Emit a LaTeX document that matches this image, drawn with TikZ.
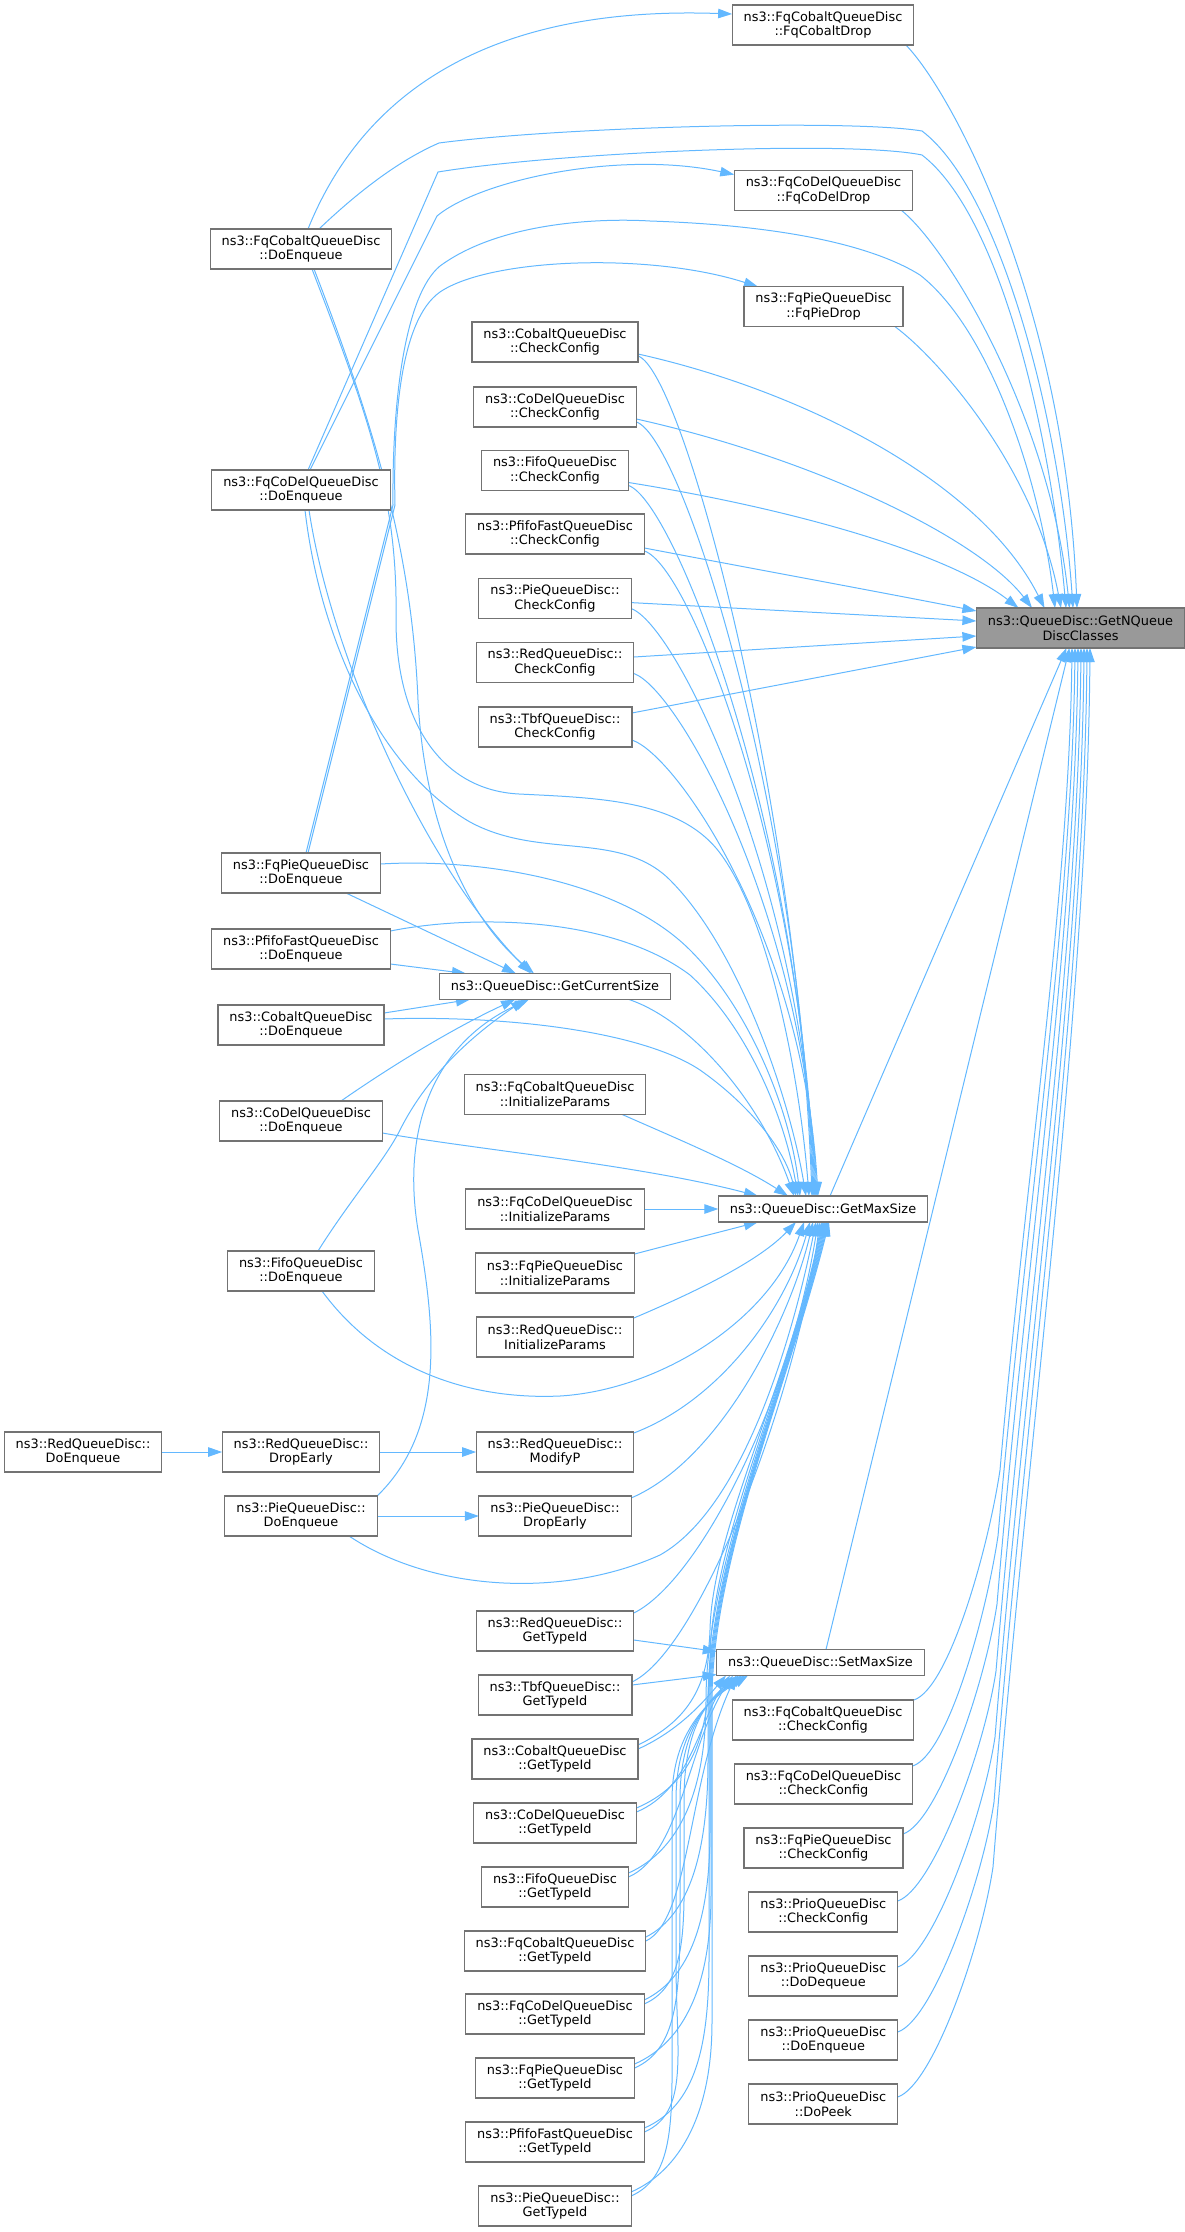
\documentclass[tikz,border=0pt]{standalone}
\usepackage{fontspec}
\setmainfont{DejaVu Sans}
\usetikzlibrary{arrows.meta,calc}
\definecolor{edgec}{HTML}{63B8FF}
\definecolor{bordc}{HTML}{737373}
\definecolor{mainfill}{HTML}{999999}
\pgfdeclarelayer{bg}
\pgfsetlayers{bg,main}
\begin{document}
\begin{tikzpicture}[x=1pt,y=-1pt,
 box/.style={draw=bordc, line width=1.2pt, fill=white, align=center, inner xsep=11.5pt, inner ysep=2pt, minimum height=40pt, outer sep=0pt, font=\fontsize{12.9}{14.8}\selectfont},
 box1/.style={box, minimum height=26pt},
 cn/.style={draw=edgec, line width=1pt, -{Triangle[length=14pt,width=9.5pt]}},
]
\useasboundingbox (0,0) rectangle (1185,2232);
% rank 0
\node[box, fill=mainfill] (G) at (1080.5,628) {ns3::QueueDisc::GetNQueue\\DiscClasses};
% rank 1
\node[box] (cdrop) at (823,25) {ns3::FqCobaltQueueDisc\\::FqCobaltDrop};
\node[box] (ddrop) at (823.5,190.6) {ns3::FqCoDelQueueDisc\\::FqCoDelDrop};
\node[box] (pdrop) at (823.5,306.7) {ns3::FqPieQueueDisc\\::FqPieDrop};
\node[box1] (gm) at (823,1209) {ns3::QueueDisc::GetMaxSize};
\node[box1] (sms) at (820.5,1662.5) {ns3::QueueDisc::SetMaxSize};
\node[box] (fcCC) at (823,1720) {ns3::FqCobaltQueueDisc\\::CheckConfig};
\node[box] (fdCC) at (823.5,1784) {ns3::FqCoDelQueueDisc\\::CheckConfig};
\node[box] (fpCC) at (823.5,1848) {ns3::FqPieQueueDisc\\::CheckConfig};
\node[box] (prCC) at (823.3,1912) {ns3::PrioQueueDisc\\::CheckConfig};
\node[box] (prDQ) at (823.3,1976) {ns3::PrioQueueDisc\\::DoDequeue};
\node[box] (prEQ) at (823.3,2040) {ns3::PrioQueueDisc\\::DoEnqueue};
\node[box] (prPK) at (823.3,2104) {ns3::PrioQueueDisc\\::DoPeek};
% rank 2
\node[box] (cobCC) at (555,342) {ns3::CobaltQueueDisc\\::CheckConfig};
\node[box] (codCC) at (555,407) {ns3::CoDelQueueDisc\\::CheckConfig};
\node[box] (fifCC) at (555,470.5) {ns3::FifoQueueDisc\\::CheckConfig};
\node[box] (pffCC) at (555,534) {ns3::PfifoFastQueueDisc\\::CheckConfig};
\node[box] (pieCC) at (555,598.6) {ns3::PieQueueDisc::\\CheckConfig};
\node[box] (redCC) at (555,662.5) {ns3::RedQueueDisc::\\CheckConfig};
\node[box] (tbfCC) at (555,727) {ns3::TbfQueueDisc::\\CheckConfig};
\node[box1] (gcs) at (555,986.5) {ns3::QueueDisc::GetCurrentSize};
\node[box] (fcIP) at (555,1094.4) {ns3::FqCobaltQueueDisc\\::InitializeParams};
\node[box] (fdIP) at (555,1209) {ns3::FqCoDelQueueDisc\\::InitializeParams};
\node[box] (fpIP) at (555,1273) {ns3::FqPieQueueDisc\\::InitializeParams};
\node[box] (redIP) at (555,1337) {ns3::RedQueueDisc::\\InitializeParams};
\node[box] (modP) at (555,1452) {ns3::RedQueueDisc::\\ModifyP};
\node[box] (pDE) at (555,1516) {ns3::PieQueueDisc::\\DropEarly};
\node[box] (redGT) at (555,1631) {ns3::RedQueueDisc::\\GetTypeId};
\node[box] (tbfGT) at (555,1695) {ns3::TbfQueueDisc::\\GetTypeId};
\node[box] (cobGT) at (555,1759) {ns3::CobaltQueueDisc\\::GetTypeId};
\node[box] (codGT) at (555,1823) {ns3::CoDelQueueDisc\\::GetTypeId};
\node[box] (fifGT) at (555,1887) {ns3::FifoQueueDisc\\::GetTypeId};
\node[box] (fcGT) at (555,1951) {ns3::FqCobaltQueueDisc\\::GetTypeId};
\node[box] (fdGT) at (555,2014) {ns3::FqCoDelQueueDisc\\::GetTypeId};
\node[box] (fpGT) at (555,2078) {ns3::FqPieQueueDisc\\::GetTypeId};
\node[box] (pffGT) at (555,2142) {ns3::PfifoFastQueueDisc\\::GetTypeId};
\node[box] (pieGT) at (555,2206) {ns3::PieQueueDisc::\\GetTypeId};
% rank 3
\node[box] (fcDE) at (301,249) {ns3::FqCobaltQueueDisc\\::DoEnqueue};
\node[box] (fdDE) at (301,490) {ns3::FqCoDelQueueDisc\\::DoEnqueue};
\node[box] (fpDE) at (301,873) {ns3::FqPieQueueDisc\\::DoEnqueue};
\node[box] (pffDE) at (301,949) {ns3::PfifoFastQueueDisc\\::DoEnqueue};
\node[box] (cobDE) at (301,1025) {ns3::CobaltQueueDisc\\::DoEnqueue};
\node[box] (codDE) at (301,1121) {ns3::CoDelQueueDisc\\::DoEnqueue};
\node[box] (fifDE) at (301,1271) {ns3::FifoQueueDisc\\::DoEnqueue};
\node[box] (rDrop) at (301,1452) {ns3::RedQueueDisc::\\DropEarly};
\node[box] (pieDE) at (301,1516) {ns3::PieQueueDisc::\\DoEnqueue};
% rank 4
\node[box] (redDE) at (83,1452) {ns3::RedQueueDisc::\\DoEnqueue};

\begin{pgfonlayer}{bg}
% ---- top group
\draw[cn] ($(fcDE.north)+(7,0)$) .. controls (360,100) and (480,5) .. ($(cdrop.west)+(0,-11)$);
\draw[cn] ($(fcDE.north)+(18,0)$) .. controls (360,190) and (400,160) .. (439,143) .. controls (560,127) and (850,119) .. (922,131) .. controls (1000,190) and (1060,420) .. ($(G.north)+(-7.5,0)$);
\draw[cn] ($(fdDE.north)+(7,0)$) -- (438,172) .. controls (560,152) and (850,140) .. (922,155) .. controls (1000,215) and (1050,430) .. ($(G.north)+(-14.5,0)$);
\draw[cn] ($(fdDE.north)+(9,0)$) -- (437,216) .. controls (480,180) and (620,150) .. ($(ddrop.west)+(0,-16)$);
\draw[cn] ($(fpDE.north)+(5,0)$) -- (393,505) .. controls (392,400) and (405,295) .. (440,266) .. controls (500,222) and (600,218) .. (650,221) .. controls (800,226) and (880,250) .. (920,275) .. controls (990,330) and (1040,480) .. ($(G.north)+(-25.5,0)$);
\draw[cn] ($(fpDE.north)+(7,0)$) -- (395,505) .. controls (393,420) and (400,320) .. (440,292) .. controls (490,258) and (650,252) .. ($(pdrop.north west)+(14,0)$);
\draw[cn] ($(cdrop.south east)+(-8,0)$) .. controls (950,90) and (1065,300) .. ($(G.north)+(-3.5,0)$);
\draw[cn] ($(ddrop.south east)+(-11,0)$) .. controls (950,250) and (1050,420) .. ($(G.north)+(-11,0)$);
\draw[cn] ($(pdrop.south east)+(-8,0)$) .. controls (940,360) and (1035,470) .. ($(G.north)+(-19.5,0)$);
% ---- CheckConfig -> G
\draw[cn] ($(cobCC.east)+(0,12)$) .. controls (800,390) and (980,480) .. ($(G.north)+(-36,0)$);
\draw[cn] ($(codCC.east)+(0,12)$) .. controls (820,460) and (980,540) .. ($(G.north)+(-48.5,0)$);
\draw[cn] ($(fifCC.east)+(0,12)$) .. controls (800,510) and (950,555) .. ($(G.north)+(-62,0)$);
\draw[cn] ($(pffCC.east)+(0,14)$) .. controls (760,570) and (880,592) .. ($(G.west)+(0,-17)$);
\draw[cn] ($(pieCC.east)+(0,4)$) -- ($(G.west)+(0,-7)$);
\draw[cn] ($(redCC.east)+(0,-5.5)$) -- ($(G.west)+(0,8)$);
\draw[cn] ($(tbfCC.east)+(0,-14)$) -- ($(G.west)+(0,19)$);
% ---- GM, SMS -> G
\draw[cn] ($(gm.north)+(7,0)$) -- ($(G.south)+(-14,0)$);
\draw[cn] ($(sms.north)+(5.5,0)$) -- ($(G.south)+(-11,0)$);
% ---- right column -> G
\draw[cn] (fcCC.north east) .. controls (949,1688) and (988,1550) .. (1000,1470) .. controls (1025,1182) and (1069,895) .. ($(G.south)+(-8.5,0)$);
\draw[cn] ($(fdCC.north east)+(0,2)$) .. controls (948,1754) and (986,1616) .. (998,1536) .. controls (1025,1225) and (1072,914) .. ($(G.south)+(-5.5,0)$);
\draw[cn] ($(fpCC.north east)+(0,6)$) .. controls (938,1822) and (985,1684) .. (997,1604) .. controls (1025,1269) and (1075,935) .. ($(G.south)+(-2.5,0)$);
\draw[cn] ($(prCC.north east)+(0,9)$) .. controls (933,1889) and (984,1751) .. (996,1671) .. controls (1026,1313) and (1078,955) .. ($(G.south)+(0.5,0)$);
\draw[cn] ($(prDQ.north east)+(0,11)$) .. controls (933,1955) and (983,1817) .. (995,1737) .. controls (1026,1356) and (1081,975) .. ($(G.south)+(3.5,0)$);
\draw[cn] ($(prEQ.north east)+(0,12)$) .. controls (933,2020) and (982,1882) .. (994,1802) .. controls (1026,1398) and (1084,994) .. ($(G.south)+(6.5,0)$);
\draw[cn] ($(prPK.north east)+(0,13)$) .. controls (933,2085) and (981,1947) .. (993,1867) .. controls (1027,1440) and (1087,1014) .. ($(G.south)+(9.5,0)$);
% ---- CheckConfig -> GetMaxSize
\draw[cn] ($(cobCC.east)+(0,14)$) .. controls (683,371) and (797,796) .. ($(gm.north)+(-11,0)$);
\draw[cn] ($(codCC.east)+(0,15)$) .. controls (682,437) and (798,800) .. ($(gm.north)+(-10,0)$);
\draw[cn] ($(fifCC.east)+(0,15)$) .. controls (674,501) and (799,820) .. ($(gm.north)+(-9,0)$);
\draw[cn] ($(pffCC.east)+(0,17)$) .. controls (690,566) and (800,850) .. ($(gm.north)+(-8,0)$);
\draw[cn] ($(pieCC.east)+(0,10)$) .. controls (676,624) and (801,880) .. ($(gm.north)+(-7,0)$);
\draw[cn] ($(redCC.east)+(0,11)$) .. controls (678,689) and (802,910) .. ($(gm.north)+(-6,0)$);
\draw[cn] ($(tbfCC.east)+(0,13)$) .. controls (677,755) and (803,940) .. ($(gm.north)+(-5,0)$);
% ---- DoEnqueue group
\draw[cn] ($(fcDE.south)+(11,0)$) .. controls (370,420) and (398,500) .. (396,620) .. controls (396,720) and (440,790) .. (519,794) .. controls (600,798) and (680,800) .. (720,853) .. controls (770,920) and (800,1080) .. ($(gm.north)+(-14,0)$);
\draw[cn] ($(fcDE.south)+(13,0)$) .. controls (380,440) and (412,560) .. (418,700) .. controls (425,830) and (470,920) .. ($(gcs.north)+(-21,0)$);
\draw[cn] ($(fdDE.south)+(4,0)$) .. controls (320,640) and (380,770) .. (470,822) .. controls (540,860) and (620,830) .. (670,880) .. controls (740,950) and (790,1100) .. ($(gm.north)+(-17,0)$);
\draw[cn] ($(fdDE.south)+(8,0)$) .. controls (330,650) and (420,860) .. ($(gcs.north)+(-24,0)$);
\draw[cn] ($(fpDE.east)+(0,-9)$) .. controls (480,858) and (620,880) .. (690,950) .. controls (750,1010) and (790,1110) .. ($(gm.north)+(-23,0)$);
\draw[cn] ($(fpDE.south)+(45,0)$) -- ($(gcs.north)+(-39,0)$);
\draw[cn] ($(pffDE.east)+(0,-18)$) .. controls (470,915) and (610,915) .. (690,975) .. controls (750,1030) and (785,1120) .. ($(gm.north)+(-25,0)$);
\draw[cn] ($(pffDE.east)+(0,15)$) -- ($(gcs.north)+(-89,0)$);
\draw[cn] ($(cobDE.east)+(0,-6)$) .. controls (500,1015) and (640,1030) .. (700,1070) .. controls (750,1105) and (785,1150) .. ($(gm.north)+(-27,0)$);
\draw[cn] ($(cobDE.east)+(0,-12)$) -- ($(gcs.south)+(-85,0)$);
\draw[cn] ($(codDE.east)+(0,12)$) .. controls (480,1150) and (640,1165) .. ($(gm.north)+(-65,0)$);
\draw[cn] ($(codDE.north)+(40,0)$) .. controls (400,1060) and (460,1025) .. ($(gcs.south)+(-40,0)$);
\draw[cn] ($(fifDE.south)+(21,0)$) .. controls (380,1370) and (470,1400) .. (560,1396) .. controls (660,1390) and (770,1320) .. ($(gm.south)+(-19,0)$);
\draw[cn] ($(fifDE.north)+(17,0)$) .. controls (350,1200) and (385,1160) .. (400,1130) .. controls (430,1070) and (480,1030) .. ($(gcs.south)+(-30,0)$);
\draw[cn] ($(gcs.south)+(74,0)$) .. controls (690,1020) and (760,1100) .. ($(gm.north)+(-29,0)$);
\draw[cn] ($(fcIP.south)+(67,0)$) .. controls (680,1140) and (740,1165) .. ($(gm.north)+(-35,0)$);
\draw[cn] (fdIP.east) -- (gm.west);
\draw[cn] ($(fpIP.east)+(0,-19)$) .. controls (680,1242) and (720,1232) .. ($(gm.south)+(-65,0)$);
\draw[cn] ($(redIP.east)+(0,-19)$) .. controls (700,1290) and (760,1260) .. ($(gm.south)+(-27,0)$);
\draw[cn] ($(modP.east)+(0,-19)$) .. controls (720,1400) and (785,1310) .. ($(gm.south)+(-13,0)$);
\draw[cn] ($(pDE.east)+(0,-18)$) .. controls (720,1460) and (790,1320) .. ($(gm.south)+(-10,0)$);
\draw[cn] ($(pieDE.south)+(48,0)$) .. controls (430,1590) and (560,1600) .. (660,1555) .. controls (740,1510) and (790,1350) .. ($(gm.south)+(-7,0)$);
\draw[cn] (pieDE.east) -- (pDE.west);
\draw[cn] (pieDE.north east) .. controls (445,1430) and (436,1330) .. (418,1230) .. controls (400,1120) and (440,1040) .. ($(gcs.south)+(-26,0)$);
\draw[cn] (redDE.east) -- (rDrop.west);
\draw[cn] (rDrop.east) -- (modP.west);
% ---- GetTypeId group
\draw[cn] ($(redGT.east)+(0,9)$) -- ($(sms.west)+(0,-11)$);
\draw[cn] ($(redGT.east)+(0,-18)$) .. controls (700,1580) and (790,1400) .. ($(gm.south)+(-5,0)$);
\draw[cn] ($(tbfGT.east)+(0,-10)$) -- ($(sms.west)+(0,12)$);
\draw[cn] ($(tbfGT.east)+(0,-13)$) .. controls (700,1650) and (795,1400) .. ($(gm.south)+(-3,0)$);
\draw[cn] ($(cobGT.east)+(0,-10)$) .. controls (680,1730) and (705,1700) .. ($(sms.south)+(-94.5,0)$);
\draw[cn] ($(cobGT.east)+(0,-14)$) .. controls (685,1722) and (708,1690) .. (710,1630) .. controls (712,1530) and (790,1380) .. ($(gm.south)+(-1,0)$);
\draw[cn] ($(codGT.east)+(0,-11)$) .. controls (690,1790) and (700,1720) .. ($(sms.south)+(-90.5,0)$);
\draw[cn] ($(codGT.east)+(0,-15)$) .. controls (690,1785) and (709,1740) .. (710,1660) .. controls (711,1540) and (790,1380) .. ($(gm.south)+(0,0)$);
\draw[cn] ($(fifGT.north east)+(0,6)$) .. controls (680,1850) and (706,1790) .. (706,1700) .. controls (706,1560) and (790,1380) .. ($(gm.south)+(1,0)$);
\draw[cn] ($(fifGT.north east)+(0,10)$) .. controls (680,1855) and (690,1740) .. ($(sms.south)+(-87.5,0)$);
\draw[cn] ($(fcGT.north east)+(0,6)$) .. controls (690,1915) and (708,1850) .. (708,1760) -- (708,1700) .. controls (708,1560) and (790,1380) .. ($(gm.south)+(2,0)$);
\draw[cn] ($(fcGT.north east)+(0,10)$) .. controls (690,1920) and (688,1780) .. ($(sms.south)+(-84.5,0)$);
\draw[cn] ($(fdGT.north east)+(0,6)$) .. controls (690,1978) and (710,1920) .. (710,1830) -- (710,1700) .. controls (710,1560) and (790,1380) .. ($(gm.south)+(3,0)$);
\draw[cn] ($(fdGT.north east)+(0,10)$) .. controls (689,1984) and (684,1924) .. (684,1834) -- (684,1800) .. controls (684,1740) and (700,1705) .. ($(sms.south)+(-81.5,0)$);
\draw[cn] ($(fpGT.north east)+(0,6)$) .. controls (685,2042) and (711,1984) .. (711,1894) -- (711,1700) .. controls (711,1560) and (790,1380) .. ($(gm.south)+(4,0)$);
\draw[cn] ($(fpGT.north east)+(0,10)$) .. controls (680,2048) and (680,1988) .. (680,1898) -- (680,1800) .. controls (680,1740) and (700,1705) .. ($(sms.south)+(-78.5,0)$);
\draw[cn] ($(pffGT.north east)+(0,6)$) .. controls (695,2106) and (709,2048) .. (709,1958) -- (709,1700) .. controls (709,1560) and (790,1380) .. ($(gm.south)+(5,0)$);
\draw[cn] ($(pffGT.north east)+(0,10)$) .. controls (690,2112) and (676,2052) .. (676,1962) -- (676,1800) .. controls (676,1740) and (700,1705) .. ($(sms.south)+(-75.5,0)$);
\draw[cn] ($(pieGT.north east)+(0,6)$) .. controls (681,2170) and (712,2112) .. (712,2022) -- (712,1700) .. controls (712,1560) and (790,1380) .. ($(gm.south)+(6,0)$);
\draw[cn] ($(pieGT.north east)+(0,10)$) .. controls (676,2176) and (672,2116) .. (672,2026) -- (672,1800) .. controls (672,1740) and (700,1705) .. ($(sms.south)+(-72.5,0)$);
\end{pgfonlayer}
\end{tikzpicture}
\end{document}
